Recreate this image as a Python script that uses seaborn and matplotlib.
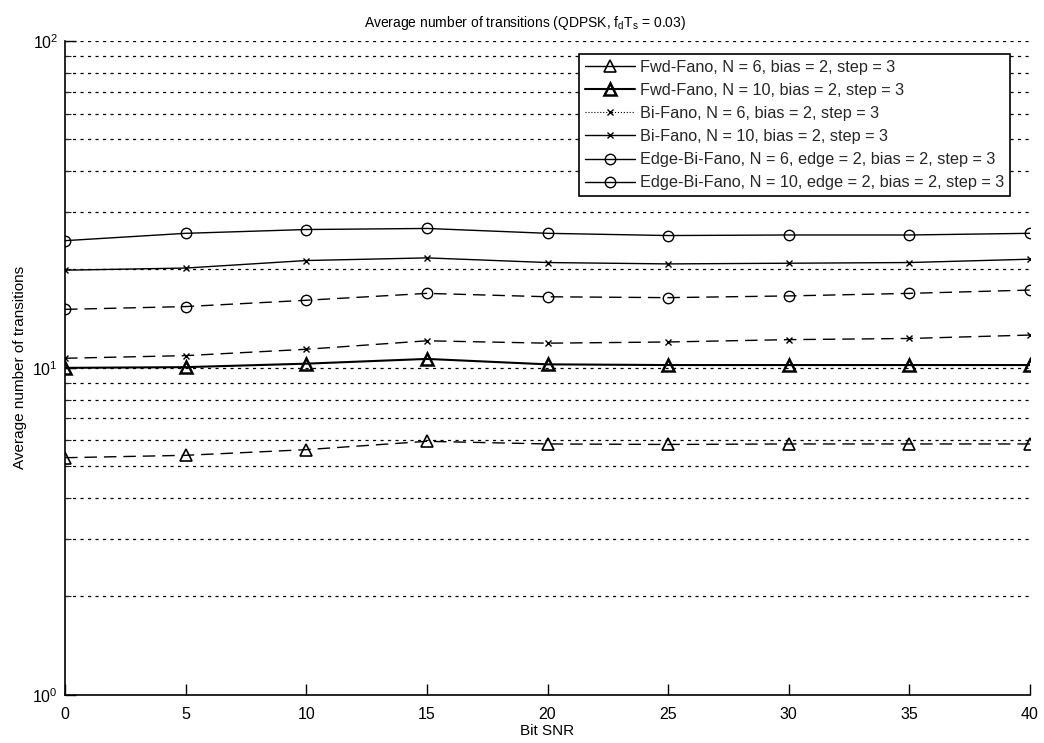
import numpy as np
import pandas as pd
import matplotlib
matplotlib.use("Agg")
import matplotlib.pyplot as plt
from matplotlib.lines import Line2D
from matplotlib.ticker import LogLocator, FixedLocator, NullFormatter
import seaborn as sns

# Bit SNR sweep
snr = [0, 5, 10, 15, 20, 25, 30, 35, 40]

# Average number of transitions per decoder
fwd_n6 = [5.31, 5.40, 5.62, 5.96, 5.85, 5.83, 5.85, 5.85, 5.85]
fwd_n10 = [10.0, 10.05, 10.3, 10.65, 10.25, 10.2, 10.2, 10.2, 10.2]
bi_n6 = [10.7, 10.9, 11.4, 12.1, 11.9, 12.0, 12.2, 12.3, 12.6]
bi_n10 = [19.9, 20.2, 21.3, 21.7, 21.0, 20.8, 20.9, 21.0, 21.5]
edge_n6 = [15.1, 15.4, 16.1, 16.9, 16.5, 16.4, 16.6, 16.9, 17.3]
edge_n10 = [24.5, 25.8, 26.5, 26.7, 25.8, 25.4, 25.5, 25.5, 25.8]

labels = [
    "Fwd-Fano, N = 6, bias = 2, step = 3",
    "Fwd-Fano, N = 10, bias = 2, step = 3",
    "Bi-Fano, N = 6, bias = 2, step = 3",
    "Bi-Fano, N = 10, bias = 2, step = 3",
    "Edge-Bi-Fano, N = 6, edge = 2, bias = 2, step = 3",
    "Edge-Bi-Fano, N = 10, edge = 2, bias = 2, step = 3",
]
series = [fwd_n6, fwd_n10, bi_n6, bi_n10, edge_n6, edge_n10]

sns.set_theme(style="white")
plt.rcParams["font.family"] = ["Liberation Sans", "DejaVu Sans"]
plt.rcParams["mathtext.fontset"] = "custom"
plt.rcParams["mathtext.rm"] = "Liberation Sans"

fig = plt.figure(figsize=(10.44, 7.43), dpi=100)
ax = fig.add_axes([0.0623, 0.065, 0.9243, 0.8798])

# (marker, dashes, linewidth, markersize, marker edge width)
styles = [
    ("^", (9, 5), 1.0, 8, 1.2),
    ("^", "", 1.5, 8, 1.8),
    ("x", (9, 5), 1.0, 5, 1.0),
    ("x", "", 1.0, 5, 1.0),
    ("o", (9, 5), 1.0, 7.5, 1.0),
    ("o", "", 1.0, 7.5, 1.0),
]

for lab, vals, (mk, dash, lw, ms, mew) in zip(labels, series, styles):
    df = pd.DataFrame({"snr": snr, "val": vals})
    sns.lineplot(data=df, x="snr", y="val", ax=ax, color="black", marker=mk,
                 markersize=ms, markeredgewidth=mew, markerfacecolor="none",
                 markeredgecolor="black", linewidth=lw)
    if dash:
        ax.lines[-1].set_dashes(dash)

ax.set_yscale("log")
ax.set_ylim(1, 100)
ax.set_xlim(0, 40)
ax.set_xticks(snr)
ax.yaxis.set_major_locator(FixedLocator([1, 10, 100]))
ax.yaxis.set_minor_locator(LogLocator(base=10, subs=np.arange(2, 10)))
ax.yaxis.set_minor_formatter(NullFormatter())
ax.set_yticklabels([r"$\mathregular{10^0}$", r"$\mathregular{10^1}$", r"$\mathregular{10^2}$"])

ax.grid(True, axis="y", which="both", linestyle=(0, (2.5, 3.5)), color="black", linewidth=0.9)
ax.set_axisbelow(True)

for side in ["top", "right"]:
    ax.spines[side].set_visible(False)
for side in ["left", "bottom"]:
    ax.spines[side].set_color("black")
    ax.spines[side].set_linewidth(1.2)

ax.tick_params(axis="both", which="major", direction="in", length=8, width=1,
               colors="black", labelsize=11.5, left=True, bottom=True, pad=5)
ax.tick_params(axis="x", which="major", pad=9)
ax.tick_params(axis="y", which="minor", direction="in", length=4, width=0.8, left=True)

ax.set_xlabel("Bit SNR", fontsize=11, color="black", labelpad=1)
ax.set_ylabel("Average number of transitions", fontsize=11, color="black", labelpad=4)
ax.set_title(r"Average number of transitions (QDPSK, $\mathregular{f_dT_s}$ = 0.03)",
             fontsize=10, color="black", pad=10, x=0.477)

handles = []
for i, (mk, dash, lw, ms, mew) in enumerate(styles):
    dotted = i == 2
    handles.append(Line2D([], [], color="black", marker=mk, markersize=ms,
                          markeredgewidth=mew, markerfacecolor="none",
                          linewidth=0.8 if dotted else lw,
                          linestyle=":" if dotted else "-"))
leg = ax.legend(handles, labels, loc="upper right", bbox_to_anchor=(0.979, 0.98),
                fontsize=11.7, frameon=True, fancybox=False, edgecolor="black",
                framealpha=1, handlelength=3.1, borderpad=0.35, labelspacing=0.5,
                handletextpad=0.3, borderaxespad=0)
leg.get_frame().set_linewidth(1.2)

fig.savefig("out.png", dpi=100, facecolor="white")
